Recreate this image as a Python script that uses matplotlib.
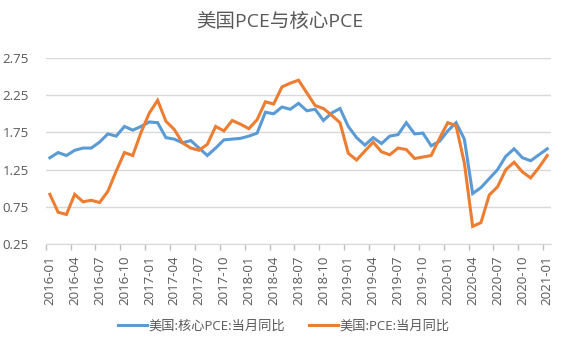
import matplotlib
matplotlib.use('Agg')
import matplotlib.pyplot as plt
import numpy as np

plt.rcParams['font.family'] = ['Open Sans', 'Noto Sans CJK SC', 'DejaVu Sans']

# 2016-01 .. 2021-01, monthly
months = ['%d-%02d' % (2016 + i // 12, i % 12 + 1) for i in range(61)]

core_pce = [1.41, 1.48, 1.44, 1.51, 1.54, 1.54, 1.62, 1.73, 1.70, 1.83, 1.78, 1.83,
            1.89, 1.88, 1.68, 1.66, 1.61, 1.64, 1.54, 1.44, 1.54, 1.65, 1.66, 1.67,
            1.70, 1.74, 2.02, 2.00, 2.09, 2.06, 2.14, 2.04, 2.06, 1.91, 2.01, 2.07,
            1.83, 1.68, 1.58, 1.68, 1.60, 1.70, 1.72, 1.88, 1.73, 1.74, 1.57, 1.63,
            1.77, 1.88, 1.66, 0.93, 1.01, 1.13, 1.25, 1.43, 1.53, 1.41, 1.37, 1.45,
            1.53]
pce = [0.92, 0.68, 0.65, 0.92, 0.82, 0.84, 0.81, 0.96, 1.23, 1.48, 1.44, 1.75,
       2.01, 2.18, 1.90, 1.79, 1.61, 1.54, 1.51, 1.59, 1.83, 1.77, 1.91, 1.86,
       1.80, 1.92, 2.16, 2.13, 2.36, 2.41, 2.45, 2.28, 2.11, 2.07, 1.98, 1.88,
       1.47, 1.38, 1.50, 1.62, 1.49, 1.45, 1.54, 1.52, 1.40, 1.42, 1.44, 1.67,
       1.88, 1.84, 1.34, 0.49, 0.54, 0.91, 1.02, 1.25, 1.35, 1.22, 1.14, 1.28,
       1.44]

yticks = [0.25, 0.75, 1.25, 1.75, 2.25, 2.75]
txt = '#595959'

fig = plt.figure(figsize=(5.67, 3.4), dpi=100)
ax = fig.add_axes([0.0806, 0.2815, 0.8919, 0.5485])
x = np.arange(len(months))
ax.plot(x, core_pce, color='#5B9BD5', lw=2.2, label='美国:核心PCE:当月同比', solid_joinstyle='miter')
ax.plot(x, pce, color='#ED7D31', lw=2.2, label='美国:PCE:当月同比', solid_joinstyle='miter')

ax.set_xlim(-0.5, 60.5)
ax.set_ylim(0.25, 2.75)
ax.set_yticks(yticks)
ax.set_yticklabels(['%.2f' % v for v in yticks])
ax.grid(axis='y', color='#D9D9D9', lw=1)
ax.set_axisbelow(True)

ax.set_xticks(x[::3])
ax.set_xticklabels(months[::3], rotation=90)
ax.set_xticks(x[::3] - 0.5, minor=True)
ax.tick_params(axis='x', which='major', length=0, pad=8, labelsize=9.5, colors=txt)
ax.tick_params(axis='x', which='minor', length=4, color='#BFBFBF', width=1)
ax.tick_params(axis='y', length=0, pad=12, labelsize=9.5, colors=txt)

for s in ['top', 'right', 'left']:
    ax.spines[s].set_visible(False)
ax.spines['bottom'].set_color('#D9D9D9')

fig.suptitle('美国PCE与核心PCE', x=0.493, y=0.96, fontsize=14, color=txt)
fig.legend(loc='center', bbox_to_anchor=(0.5, 0.042), ncol=2, frameon=False,
           fontsize=9.5, handlelength=2.2, handletextpad=0.1, columnspacing=1.8,
           labelcolor=txt)

fig.savefig('out.png', dpi=100)
